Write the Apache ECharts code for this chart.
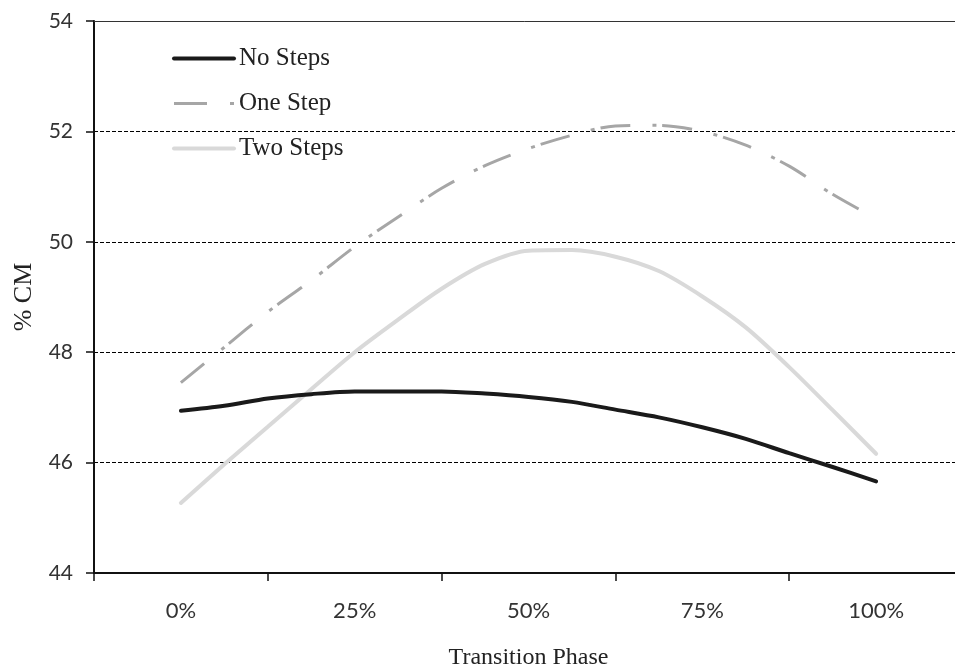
<!DOCTYPE html>
<html>
<head>
<meta charset="utf-8">
<script src="https://cdn.jsdelivr.net/npm/echarts@6/dist/echarts.min.js"></script>
<style>html,body{margin:0;padding:0;background:#fff}#c{width:955px;height:666px}</style>
</head>
<body>
<div id="c"></div>
<script>
var categories = ['0%', '25%', '50%', '75%', '100%'];
var phases = [0, 6.25, 12.5, 18.75, 25, 31.25, 37.5, 43.75, 50, 56.25, 62.5, 68.75, 75, 81.25, 87.5, 93.75, 100];
var noSteps = [46.94, 47.03, 47.16, 47.24, 47.29, 47.29, 47.29, 47.25, 47.19, 47.10, 46.96, 46.82, 46.64, 46.43, 46.17, 45.92, 45.66];
var oneStep = [47.45, 48.09, 48.73, 49.30, 49.91, 50.45, 50.97, 51.38, 51.69, 51.93, 52.10, 52.11, 52.00, 51.75, 51.37, 50.86, 50.42];
var twoSteps = [45.27, 45.97, 46.65, 47.33, 48.00, 48.59, 49.15, 49.60, 49.84, 49.85, 49.73, 49.47, 49.01, 48.45, 47.73, 46.95, 46.16];
var yTicks = { min: 44, max: 54, interval: 2 };

function pairs(vals) { return vals.map(function (v, i) { return [phases[i], v]; }); }

var serif = '"Liberation Serif", "DejaVu Serif", serif';
var sans = 'Lato, "Open Sans", sans-serif';

var chart = echarts.init(document.getElementById('c'));
chart.setOption({
  animation: false,
  backgroundColor: '#fff',
  grid: { left: 94, right: -8, top: 21, bottom: 93, containLabel: false, outerBoundsMode: 'none' },
  legend: {
    orient: 'vertical', left: 172, top: 46, padding: 0,
    itemWidth: 60, itemHeight: 14, itemGap: 20,
    itemStyle: { opacity: 0 },
    textStyle: { fontFamily: serif, fontSize: 25, color: '#222', lineHeight: 24 },
    data: [
      { name: 'No Steps', lineStyle: { width: 4, color: '#1a1a1a' } },
      { name: 'One Step', lineStyle: { width: 3, color: '#a6a6a6', type: [33, 23, 4, 10] } },
      { name: 'Two Steps', lineStyle: { width: 4, color: '#d9d9d9' } }
    ]
  },
  xAxis: [
    {
      type: 'category', data: categories, boundaryGap: true, position: 'bottom',
      axisLine: { show: true, lineStyle: { color: '#111', width: 2 } },
      axisTick: { show: true, length: 8, lineStyle: { color: '#111', width: 1.5 } },
      axisLabel: { fontFamily: sans, fontSize: 22, color: '#333', margin: 27 },
      splitLine: { show: false },
      name: 'Transition Phase', nameLocation: 'middle', nameGap: 73,
      nameTextStyle: { fontFamily: serif, fontSize: 24, color: '#222' }
    },
    {
      type: 'value', min: -12.5, max: 112.5, position: 'top',
      axisLine: { show: true, onZero: false, lineStyle: { color: '#333', width: 1 } },
      axisTick: { show: false }, axisLabel: { show: false }, splitLine: { show: false }
    }
  ],
  yAxis: {
    type: 'value', min: yTicks.min, max: yTicks.max, interval: yTicks.interval,
    axisLine: { show: true, onZero: false, lineStyle: { color: '#111', width: 2 } },
    axisTick: { show: true, length: 8, lineStyle: { color: '#111', width: 1.5 } },
    axisLabel: { fontFamily: sans, fontSize: 21, color: '#333', margin: 21 },
    splitLine: { show: true, lineStyle: { color: '#000', width: 1, type: [4, 2] } },
    name: '% CM', nameLocation: 'middle', nameGap: 57, nameRotate: 90,
    nameTextStyle: { fontFamily: serif, fontSize: 26, color: '#222' }
  },
  series: [
    {
      name: 'No Steps', type: 'line', xAxisIndex: 1, data: pairs(noSteps),
      symbol: 'none', smooth: 0.3, z: 5,
      lineStyle: { color: '#1a1a1a', width: 4, cap: 'round' },
      itemStyle: { color: '#1a1a1a' }
    },
    {
      name: 'One Step', type: 'line', xAxisIndex: 1, data: pairs(oneStep),
      symbol: 'none', smooth: 0.3, z: 4,
      lineStyle: { color: '#a6a6a6', width: 3, type: [30, 22, 4, 6] },
      itemStyle: { color: '#a6a6a6' }
    },
    {
      name: 'Two Steps', type: 'line', xAxisIndex: 1, data: pairs(twoSteps),
      symbol: 'none', smooth: 0.3, z: 3,
      lineStyle: { color: '#d9d9d9', width: 4, cap: 'round' },
      itemStyle: { color: '#d9d9d9' }
    }
  ]
});
</script>
</body>
</html>
